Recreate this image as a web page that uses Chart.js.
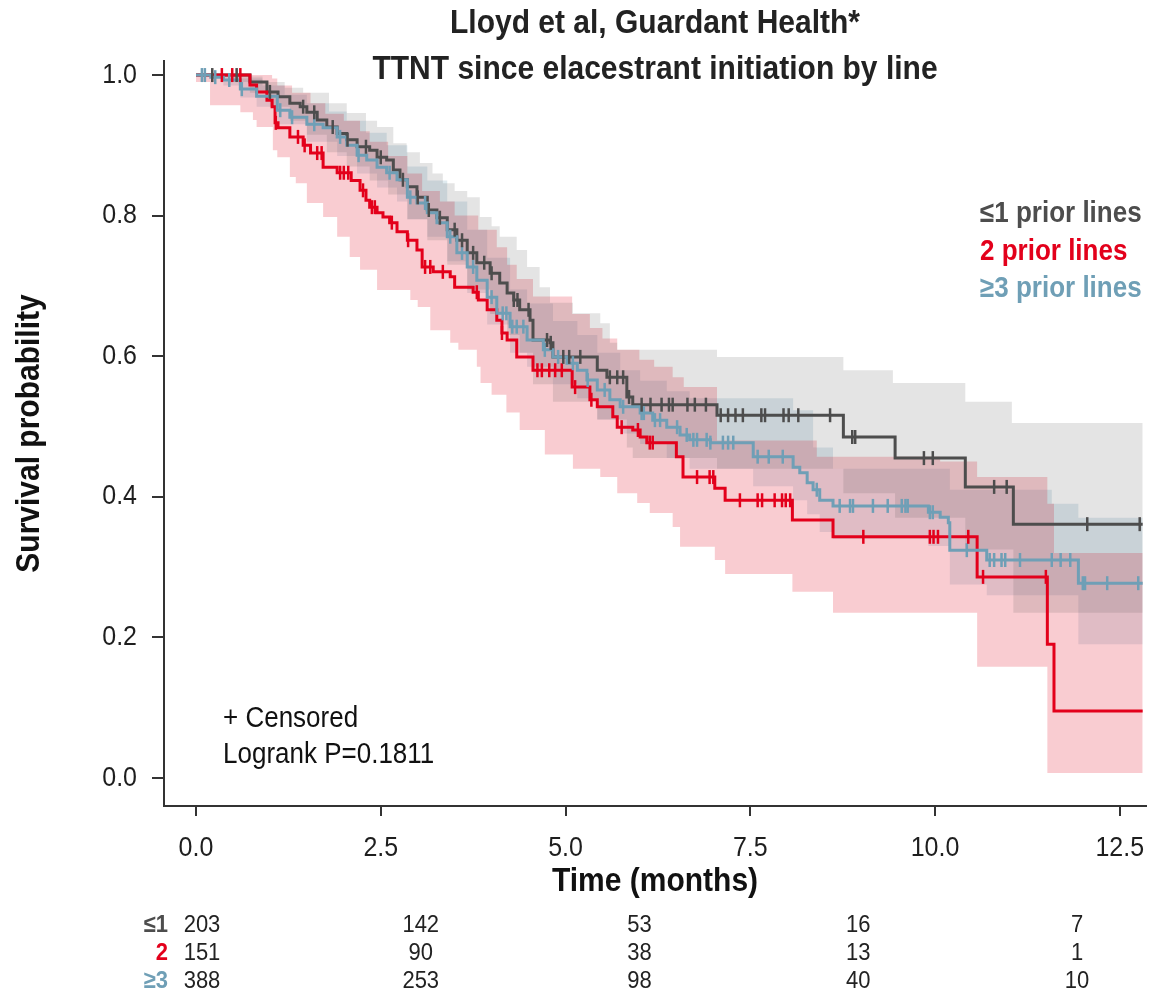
<!DOCTYPE html>
<html>
<head>
<meta charset="utf-8">
<title>TTNT since elacestrant initiation by line</title>
<script src="https://cdn.jsdelivr.net/npm/chart.js@4.4.1/dist/chart.umd.min.js"></script>
<style>
  html, body { margin: 0; padding: 0; background: #fff; }
  #wrap { width: 1150px; height: 996px; }
</style>
</head>
<body>
<div id="wrap"><canvas id="kmChart" width="1150" height="996"></canvas></div>
<script>
const FONT = "'Liberation Sans', Arial, Helvetica, sans-serif";
const STRETCH = 1.12; // text is drawn slightly tall

const titleLines = ['Lloyd et al, Guardant Health*', 'TTNT since elacestrant initiation by line'];
const xTitle = 'Time (months)';
const yTitle = 'Survival probability';
const groupNames = ['\u22641 prior lines', '2 prior lines', '\u22653 prior lines'];
const groupShort = ['\u22641', '2', '\u22653'];
const groupColors = ['#4d4d4d', '#e3001b', '#6f9fb6'];
const bandColors = ['rgba(77,77,77,0.15)', 'rgba(227,0,27,0.2)', 'rgba(111,159,182,0.22)'];
const noteLines = ['+ Censored', 'Logrank P=0.1811'];

const xTicks = [0, 2.5, 5, 7.5, 10, 12.5];
const yTicks = [0, 0.2, 0.4, 0.6, 0.8, 1.0];
const endTime = 12.81;

// number at risk
const atRiskTimes = [0, 2.5, 5, 7.5, 10];
const atRiskLow = [203, 142, 53, 16, 7];
const atRiskMid = [151, 90, 38, 13, 1];
const atRiskHigh = [388, 253, 98, 40, 10];

// Kaplan-Meier steps [time, survival]  (<=1 prior lines)
const lowCurve = [[0,1],[0.73,0.99],[0.96,0.976],[1.11,0.969],[1.27,0.96],[1.41,0.955],[1.5,0.947],[1.64,0.936],[1.77,0.926],[1.91,0.917],[2.04,0.908],[2.18,0.898],[2.35,0.893],[2.45,0.883],[2.58,0.879],[2.67,0.865],[2.76,0.851],[2.86,0.841],[2.99,0.826],[3.13,0.808],[3.26,0.797],[3.4,0.78],[3.53,0.765],[3.67,0.747],[3.8,0.733],[3.98,0.718],[4.11,0.704],[4.21,0.69],[4.3,0.68],[4.38,0.666],[4.52,0.651],[4.56,0.623],[4.79,0.619],[4.83,0.599],[5.43,0.58],[5.56,0.57],[5.83,0.542],[5.91,0.531],[7.05,0.516],[8.76,0.485],[9.46,0.455],[10.41,0.414],[11.06,0.361]];
const lowUpper = [[0,1],[0.6,0.998],[0.9,0.99],[1.2,0.982],[1.45,0.975],[1.8,0.96],[2.04,0.946],[2.3,0.935],[2.45,0.926],[2.67,0.903],[2.85,0.89],[3.03,0.875],[3.2,0.86],[3.34,0.846],[3.5,0.835],[3.67,0.826],[3.84,0.798],[4.0,0.785],[4.11,0.77],[4.34,0.751],[4.48,0.727],[4.65,0.698],[4.79,0.676],[5.1,0.661],[5.47,0.647],[5.6,0.619],[5.7,0.609],[7.05,0.599],[8.76,0.58],[9.43,0.562],[10.41,0.535],[11.04,0.505]];
const lowLower = [[0,1],[0.5,0.99],[0.73,0.975],[1.0,0.955],[1.27,0.935],[1.5,0.915],[1.77,0.89],[2.04,0.87],[2.35,0.85],[2.6,0.83],[2.86,0.795],[3.13,0.765],[3.4,0.73],[3.67,0.695],[3.98,0.66],[4.21,0.63],[4.38,0.605],[4.56,0.56],[4.83,0.535],[5.43,0.51],[5.83,0.47],[5.91,0.455],[7.05,0.44],[8.76,0.405],[9.46,0.37],[10.41,0.325],[11.06,0.235]];
const lowCensor = [0.22,0.55,1.0,1.45,1.6,1.85,2.05,2.3,2.5,2.8,3.0,3.15,3.3,3.5,3.6,3.75,3.9,4.0,4.3,4.35,4.5,4.75,4.8,4.97,5.05,5.2,5.6,5.7,5.78,5.86,6.03,6.15,6.3,6.4,6.45,6.65,6.75,6.9,7.1,7.2,7.3,7.4,7.65,7.7,7.95,8.02,8.15,8.58,8.88,8.92,9.85,9.97,10.8,10.97,12.06,12.77];

// 2 prior lines
const midCurve = [[0,1],[0.73,0.986],[0.82,0.976],[0.96,0.964],[1.03,0.955],[1.07,0.932],[1.11,0.925],[1.27,0.912],[1.45,0.9],[1.55,0.889],[1.72,0.869],[1.91,0.861],[2.1,0.85],[2.22,0.836],[2.3,0.822],[2.35,0.812],[2.45,0.804],[2.53,0.798],[2.62,0.79],[2.72,0.777],[2.86,0.765],[2.99,0.751],[3.06,0.727],[3.21,0.72],[3.44,0.713],[3.5,0.698],[3.75,0.691],[3.82,0.68],[3.94,0.666],[4.07,0.651],[4.14,0.633],[4.21,0.623],[4.34,0.599],[4.56,0.58],[5.09,0.556],[5.33,0.538],[5.43,0.528],[5.64,0.514],[5.7,0.499],[5.91,0.495],[6.01,0.485],[6.1,0.477],[6.5,0.457],[6.59,0.428],[7.02,0.412],[7.16,0.395],[8.07,0.367],[8.62,0.343],[10.57,0.286],[11.52,0.19],[11.61,0.095]];
const midUpper = [[0,1],[1.03,0.995],[1.1,0.985],[1.3,0.975],[1.55,0.96],[1.75,0.945],[2.0,0.935],[2.22,0.92],[2.35,0.905],[2.6,0.885],[2.86,0.86],[3.06,0.835],[3.3,0.82],[3.5,0.8],[3.82,0.78],[4.07,0.755],[4.21,0.73],[4.34,0.71],[4.56,0.685],[5.09,0.66],[5.33,0.64],[5.5,0.625],[5.7,0.609],[6.0,0.595],[6.2,0.585],[6.45,0.57],[6.6,0.556],[7.05,0.48],[8.4,0.457],[10.07,0.45],[10.57,0.428],[11.52,0.39],[11.61,0.32]];
const midLower = [[0,0.99],[0.19,0.957],[0.6,0.947],[0.77,0.936],[0.82,0.926],[1.04,0.893],[1.1,0.883],[1.27,0.855],[1.35,0.846],[1.5,0.818],[1.72,0.798],[1.91,0.77],[2.08,0.741],[2.22,0.723],[2.45,0.694],[2.9,0.68],[3.0,0.67],[3.17,0.637],[3.44,0.619],[3.55,0.609],[3.8,0.585],[3.85,0.562],[4.0,0.545],[4.2,0.52],[4.38,0.495],[4.72,0.46],[5.1,0.44],[5.47,0.428],[5.7,0.405],[5.97,0.391],[6.14,0.377],[6.45,0.357],[6.55,0.329],[7.02,0.31],[7.16,0.29],[8.07,0.265],[8.62,0.235],[10.57,0.158],[11.52,0.007]];
const midCensor = [0.35,0.49,0.6,1.08,1.38,1.47,1.64,1.7,1.95,2.0,2.06,2.26,2.38,2.42,2.65,2.87,3.1,3.17,3.34,3.8,4.14,4.62,4.68,4.78,4.86,4.95,5.13,5.35,5.76,5.98,6.14,6.18,6.78,6.95,7.0,7.36,7.6,7.66,7.83,7.93,7.98,8.04,9.03,9.93,9.98,10.04,10.45,10.65,11.5];

// >=3 prior lines
const highCurve = [[0,1],[0.2,0.997],[0.37,0.993],[0.6,0.98],[0.82,0.97],[1.1,0.95],[1.27,0.94],[1.5,0.93],[1.72,0.925],[1.91,0.912],[2.04,0.9],[2.18,0.886],[2.31,0.879],[2.45,0.869],[2.58,0.861],[2.72,0.851],[2.86,0.826],[2.99,0.818],[3.13,0.804],[3.26,0.79],[3.4,0.77],[3.53,0.747],[3.67,0.727],[3.8,0.708],[3.94,0.684],[4.07,0.661],[4.25,0.642],[4.48,0.623],[4.7,0.609],[4.83,0.599],[5.02,0.59],[5.16,0.58],[5.29,0.566],[5.43,0.552],[5.6,0.538],[5.74,0.528],[6.01,0.519],[6.18,0.509],[6.37,0.499],[6.55,0.488],[6.68,0.481],[6.96,0.477],[7.54,0.457],[8.08,0.442],[8.17,0.434],[8.27,0.42],[8.35,0.41],[8.44,0.395],[8.62,0.387],[9.91,0.378],[10.07,0.371],[10.18,0.363],[10.2,0.324],[10.7,0.31],[11.94,0.277]];
const highUpper = [[0,1],[0.6,0.995],[0.9,0.985],[1.2,0.972],[1.5,0.96],[1.8,0.948],[2.04,0.935],[2.3,0.918],[2.58,0.9],[2.86,0.87],[3.13,0.85],[3.4,0.82],[3.67,0.78],[3.94,0.74],[4.25,0.695],[4.48,0.675],[4.83,0.65],[5.16,0.63],[5.43,0.605],[5.74,0.58],[6.01,0.565],[6.37,0.55],[6.68,0.54],[8.08,0.523],[8.35,0.47],[8.62,0.44],[10.2,0.41],[11.58,0.39],[11.94,0.37]];
const highLower = [[0,1],[0.37,0.985],[0.6,0.968],[0.82,0.955],[1.1,0.93],[1.5,0.905],[1.91,0.885],[2.18,0.86],[2.45,0.84],[2.72,0.82],[2.86,0.795],[3.13,0.77],[3.4,0.735],[3.67,0.69],[3.94,0.645],[4.25,0.605],[4.48,0.585],[4.83,0.56],[5.16,0.54],[5.43,0.51],[5.74,0.49],[6.01,0.475],[6.37,0.455],[6.68,0.44],[7.54,0.415],[8.08,0.395],[8.27,0.375],[8.44,0.35],[8.62,0.34],[9.91,0.33],[10.2,0.275],[10.7,0.26],[11.94,0.19]];
const highCensor = [0.08,0.12,0.26,0.45,0.62,1.14,1.3,1.6,1.95,2.2,2.62,2.9,3.1,3.44,3.6,3.75,4.0,4.15,4.2,4.28,4.34,4.43,4.72,4.9,5.1,5.3,5.53,5.78,6.03,6.06,6.21,6.28,6.51,6.64,6.73,6.78,6.91,6.96,7.13,7.2,7.27,7.6,7.75,7.94,8.4,8.71,8.85,8.89,9.16,9.36,9.55,9.6,9.63,9.93,9.97,10.43,10.74,10.8,10.9,10.95,11.15,11.58,11.7,11.83,12.0,12.03,12.33,12.75];

const groups = [
  { curve: lowCurve, upper: lowUpper, lower: lowLower, censor: lowCensor, atRisk: atRiskLow },
  { curve: midCurve, upper: midUpper, lower: midLower, censor: midCensor, atRisk: atRiskMid },
  { curve: highCurve, upper: highUpper, lower: highLower, censor: highCensor, atRisk: atRiskHigh }
];

function stepPoints(steps) {
  const pts = steps.map(([x, y]) => ({ x, y }));
  pts.push({ x: endTime, y: steps[steps.length - 1][1] });
  return pts;
}

function valueAt(steps, t) {
  let v = steps[0][1];
  for (const [x, y] of steps) {
    if (x <= t) v = y; else break;
  }
  return v;
}

const datasets = [];
groups.forEach((g, i) => {
  datasets.push({
    label: groupNames[i] + ' CI',
    data: stepPoints(g.upper),
    stepped: true, borderWidth: 0, pointRadius: 0,
    backgroundColor: bandColors[i], fill: '+1', order: 5
  });
  datasets.push({
    label: groupNames[i] + ' CI low',
    data: stepPoints(g.lower),
    stepped: true, borderWidth: 0, pointRadius: 0, fill: false, order: 5
  });
});
groups.forEach((g, i) => {
  datasets.push({
    label: groupNames[i],
    data: stepPoints(g.curve),
    stepped: true, borderColor: groupColors[i], borderWidth: 3,
    pointRadius: 0, fill: false, order: 3 - i
  });
  datasets.push({
    label: groupNames[i] + ' censored',
    data: g.censor.map(t => ({ x: t, y: valueAt(g.curve, t) })),
    showLine: false, pointStyle: 'line', rotation: 90,
    pointRadius: 7, pointBorderWidth: 2.5,
    borderColor: groupColors[i], pointBorderColor: groupColors[i], order: 0
  });
});

function tallText(ctx, text, x, y, opts) {
  ctx.save();
  ctx.translate(x, y);
  if (opts.rotate) ctx.rotate(opts.rotate);
  ctx.scale(1, STRETCH);
  ctx.font = opts.font;
  ctx.fillStyle = opts.color || '#222';
  ctx.textAlign = opts.align || 'left';
  ctx.textBaseline = opts.baseline || 'alphabetic';
  ctx.fillText(text, 0, 0);
  ctx.restore();
}

// titles, tick labels, legend text, note and number-at-risk table
const textPlugin = {
  id: 'kmText',
  afterDraw(chart) {
    const { ctx, chartArea, scales } = chart;
    const cx = (chartArea.left + chartArea.right) / 2;

    titleLines.forEach((s, i) => tallText(ctx, s, cx, 33 + i * 46,
      { font: 'bold 30px ' + FONT, align: 'center', color: '#222' }));

    xTicks.forEach(v => tallText(ctx, v.toFixed(1), scales.x.getPixelForValue(v), 848,
      { font: '25px ' + FONT, align: 'center', baseline: 'middle', color: '#1e1e1e' }));
    yTicks.forEach(v => tallText(ctx, v.toFixed(1), 137, scales.y.getPixelForValue(v),
      { font: '25px ' + FONT, align: 'right', baseline: 'middle', color: '#1e1e1e' }));

    tallText(ctx, xTitle, cx, 882,
      { font: 'bold 30px ' + FONT, align: 'center', baseline: 'middle', color: '#111' });
    tallText(ctx, yTitle, 30, (chartArea.top + chartArea.bottom) / 2,
      { font: 'bold 30px ' + FONT, align: 'center', baseline: 'middle', color: '#111', rotate: -Math.PI / 2 });

    groupNames.forEach((s, i) => tallText(ctx, s, 980, 222 + i * 37.5,
      { font: 'bold 26px ' + FONT, color: groupColors[i] }));

    noteLines.forEach((s, i) => tallText(ctx, s, 223, 727 + i * 36,
      { font: '26px ' + FONT, color: '#111' }));

    groups.forEach((g, r) => {
      const y = 925 + r * 28;
      tallText(ctx, groupShort[r], 168, y,
        { font: 'bold 22px ' + FONT, align: 'right', baseline: 'middle', color: groupColors[r] });
      g.atRisk.forEach((n, c) => tallText(ctx, String(n), chartArea.left + 38 + c * 218.75, y,
        { font: '22px ' + FONT, align: 'center', baseline: 'middle', color: '#222' }));
    });
  }
};

new Chart(document.getElementById('kmChart').getContext('2d'), {
  type: 'line',
  data: { datasets: datasets },
  plugins: [textPlugin],
  options: {
    responsive: false,
    animation: false,
    events: [],
    layout: { autoPadding: false, padding: { top: 61, right: 4, bottom: 96, left: 0 } },
    plugins: {
      legend: { display: false },
      title: { display: false },
      tooltip: { enabled: false }
    },
    scales: {
      x: {
        type: 'linear',
        min: -0.433,
        max: 12.855,
        afterBuildTicks: s => { s.ticks = xTicks.map(v => ({ value: v })); },
        afterFit: s => { s.height = 94; s.paddingLeft = 0; s.paddingRight = 0; },
        ticks: { display: false },
        grid: { drawOnChartArea: false, drawTicks: true, tickLength: 10, color: '#333', lineWidth: 2 },
        border: { display: true, color: '#333', width: 2 }
      },
      y: {
        min: -0.04,
        max: 1.02,
        afterBuildTicks: s => { s.ticks = yTicks.map(v => ({ value: v })); },
        afterFit: s => { s.width = 164; s.paddingTop = 0; s.paddingBottom = 0; },
        ticks: { display: false },
        grid: { drawOnChartArea: false, drawTicks: true, tickLength: 12, color: '#333', lineWidth: 2 },
        border: { display: true, color: '#333', width: 2 }
      }
    }
  }
});
</script>
</body>
</html>
